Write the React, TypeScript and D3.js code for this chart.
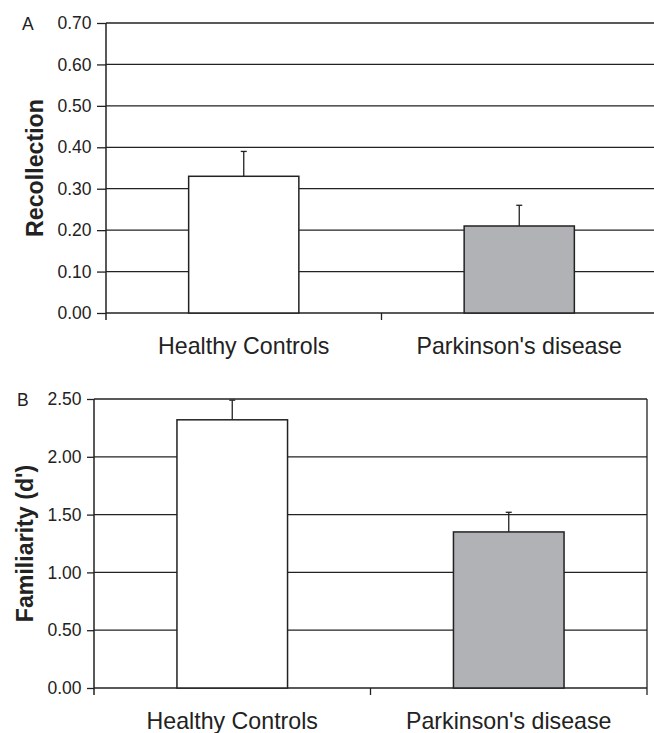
import React, { useEffect, useRef } from "react";
import * as d3 from "d3";

// values
const groups = ["Healthy Controls", "Parkinson's disease"];
const barFills = ["#ffffff", "#b1b2b5"];

const recollectionMeans = [0.33, 0.21];
const recollectionErrors = [0.06, 0.05];
const recollectionTicks = [0, 0.1, 0.2, 0.3, 0.4, 0.5, 0.6, 0.7];

const familiarityMeans = [2.32, 1.35];
const familiarityErrors = [0.17, 0.17];
const familiarityTicks = [0, 0.5, 1, 1.5, 2, 2.5];

const ink = "#222";
const font = "'Liberation Sans', Arial, Helvetica, sans-serif";

interface Panel {
  letter: string;
  letterX: number;
  label: string;
  means: number[];
  errors: number[];
  ticks: number[];
  left: number;
  right: number;
  top: number;
  bottom: number;
  tickLen: number;
  labelX: number;
  rightBorder: boolean;
}

function drawPanel(svg: any, p: Panel) {
  const g = svg.append("g");
  const y = d3
    .scaleLinear()
    .domain([0, p.ticks[p.ticks.length - 1]])
    .range([p.bottom, p.top]);
  const x = d3
    .scaleBand()
    .domain(groups)
    .range([p.left, p.right])
    .paddingInner(0.6)
    .paddingOuter(0.3);

  // gridlines
  g.selectAll(".grid")
    .data(p.ticks.slice(1))
    .enter()
    .append("line")
    .attr("x1", p.left)
    .attr("x2", p.right)
    .attr("y1", (d: number) => y(d))
    .attr("y2", (d: number) => y(d))
    .attr("stroke", ink)
    .attr("stroke-width", 1.3);

  // left axis with ticks and labels
  const axis = g
    .append("g")
    .attr("transform", `translate(${p.left},0)`)
    .call(
      d3
        .axisLeft(y)
        .tickValues(p.ticks)
        .tickFormat(d3.format(".2f"))
        .tickSize(p.tickLen)
        .tickSizeOuter(0)
        .tickPadding(5.5)
    );
  axis.select(".domain").remove();
  axis.selectAll("line").attr("stroke", ink).attr("stroke-width", 1.3);
  axis
    .selectAll("text")
    .attr("fill", ink)
    .style("font-family", font)
    .style("font-size", "17.5px");

  // vertical axis line, running a little below the baseline
  g.append("line")
    .attr("x1", p.left)
    .attr("x2", p.left)
    .attr("y1", p.top)
    .attr("y2", p.bottom + 7)
    .attr("stroke", ink)
    .attr("stroke-width", 1.5);

  // baseline and category separators
  g.append("line")
    .attr("x1", p.left)
    .attr("x2", p.right)
    .attr("y1", p.bottom)
    .attr("y2", p.bottom)
    .attr("stroke", ink)
    .attr("stroke-width", 1.5);
  const mid = (p.left + p.right) / 2;
  [mid, p.right].forEach((xx) => {
    g.append("line")
      .attr("x1", xx)
      .attr("x2", xx)
      .attr("y1", xx === p.right && p.rightBorder ? p.top : p.bottom)
      .attr("y2", p.bottom + 7)
      .attr("stroke", ink)
      .attr("stroke-width", 1.3);
  });

  // bars
  groups.forEach((name, i) => {
    const bx = x(name)!;
    const cx = bx + x.bandwidth() / 2;
    const hi = y(p.means[i] + p.errors[i]);
    g.append("line")
      .attr("x1", cx)
      .attr("x2", cx)
      .attr("y1", y(p.means[i]))
      .attr("y2", hi)
      .attr("stroke", ink)
      .attr("stroke-width", 1.3);
    g.append("line")
      .attr("x1", cx - 3)
      .attr("x2", cx + 3)
      .attr("y1", hi)
      .attr("y2", hi)
      .attr("stroke", ink)
      .attr("stroke-width", 1.3);
    g.append("rect")
      .attr("x", bx)
      .attr("y", y(p.means[i]))
      .attr("width", x.bandwidth())
      .attr("height", p.bottom - y(p.means[i]))
      .attr("fill", barFills[i])
      .attr("stroke", ink)
      .attr("stroke-width", 1.5);

    g.append("text")
      .attr("x", cx)
      .attr("y", p.bottom + 41)
      .attr("text-anchor", "middle")
      .attr("fill", ink)
      .style("font-family", font)
      .style("font-size", "23.2px")
      .text(name);
  });

  // y label
  g.append("text")
    .attr("transform", `translate(${p.labelX},${(p.top + p.bottom) / 2}) rotate(-90)`)
    .attr("text-anchor", "middle")
    .attr("fill", ink)
    .style("font-family", font)
    .style("font-size", "23.2px")
    .style("font-weight", "bold")
    .text(p.label);

  // panel letter
  g.append("text")
    .attr("x", p.letterX)
    .attr("y", p.top + 7)
    .attr("fill", ink)
    .style("font-family", font)
    .style("font-size", "17.5px")
    .text(p.letter);
}

export default function App() {
  const ref = useRef<SVGSVGElement>(null);

  useEffect(() => {
    const svg = d3.select(ref.current);
    svg.selectAll("*").remove();
    svg
      .append("rect")
      .attr("width", 654)
      .attr("height", 733)
      .attr("fill", "#fff");

    drawPanel(svg, {
      letter: "A",
      letterX: 22,
      label: "Recollection",
      means: recollectionMeans,
      errors: recollectionErrors,
      ticks: recollectionTicks,
      left: 106,
      right: 657,
      top: 23,
      bottom: 313,
      tickLen: 9,
      labelX: 43,
      rightBorder: false,
    });

    drawPanel(svg, {
      letter: "B",
      letterX: 17,
      label: "Familiarity (d')",
      means: familiarityMeans,
      errors: familiarityErrors,
      ticks: familiarityTicks,
      left: 94,
      right: 647,
      top: 399,
      bottom: 688,
      tickLen: 7,
      labelX: 32.5,
      rightBorder: true,
    });
  }, []);

  return (
    <svg
      ref={ref}
      width={654}
      height={733}
      style={{ position: "absolute", left: 0, top: 0 }}
    />
  );
}
